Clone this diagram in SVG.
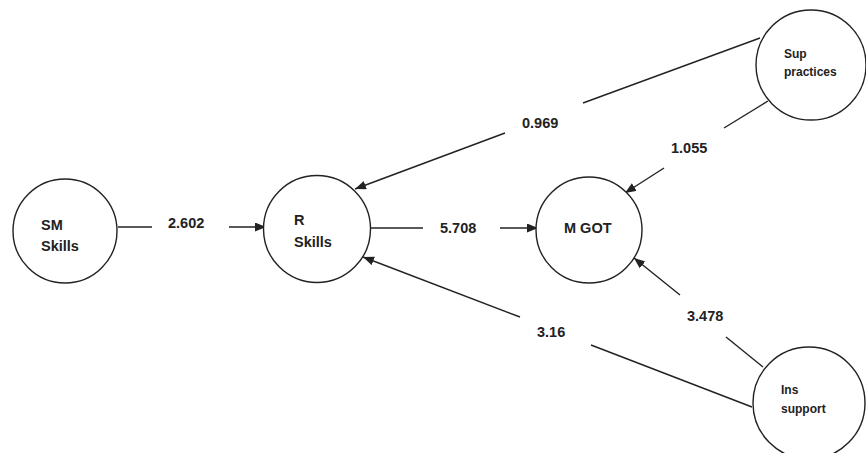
<svg xmlns="http://www.w3.org/2000/svg" width="866" height="453" viewBox="0 0 866 453">
<style>
.node circle{fill:#fff;stroke:#222;stroke-width:1.4}
.lbl{font-family:"Liberation Sans",Arial,sans-serif;font-weight:bold;font-size:14.5px;fill:#222}
.sm{font-size:12px}
.edge line{stroke:#222;stroke-width:1.4}
.w{font-family:"Liberation Sans",Arial,sans-serif;font-weight:bold;font-size:14.5px;fill:#222}
</style>
<defs>
<marker id="ah" markerUnits="userSpaceOnUse" markerWidth="12" markerHeight="10" refX="11" refY="4.5" orient="auto">
<path d="M0,0 L11,4.5 L0,9 z" fill="#222"/>
</marker>
</defs>
<rect width="866" height="453" fill="#fff"/>
<g id="connectors" class="edge">
<line x1="118" y1="227" x2="152" y2="227"/>
<line x1="229" y1="227" x2="266" y2="227" marker-end="url(#ah)"/>
<line x1="370" y1="228" x2="423" y2="228"/>
<line x1="500" y1="228" x2="538" y2="228" marker-end="url(#ah)"/>
<line x1="760" y1="38" x2="583" y2="103"/>
<line x1="505" y1="133" x2="355" y2="189" marker-end="url(#ah)"/>
<line x1="768" y1="101" x2="724" y2="128"/>
<line x1="664" y1="168" x2="625" y2="193" marker-end="url(#ah)"/>
<line x1="763" y1="367" x2="726" y2="337"/>
<line x1="680" y1="295" x2="634" y2="258" marker-end="url(#ah)"/>
<line x1="752" y1="407" x2="591" y2="345"/>
<line x1="520" y1="317" x2="363" y2="257" marker-end="url(#ah)"/>
<text class="w" x="168" y="228">2.602</text>
<text class="w" x="440" y="233">5.708</text>
<text class="w" x="522" y="128">0.969</text>
<text class="w" x="671" y="153">1.055</text>
<text class="w" x="687" y="321">3.478</text>
<text class="w" x="537" y="337">3.16</text>
</g>
<g id="sm-skills" class="node">
<circle cx="65" cy="231" r="52"/>
<text class="lbl" x="41" y="230">SM</text>
<text class="lbl" x="41" y="251">Skills</text>
</g>
<g id="r-skills" class="node">
<circle cx="317" cy="229" r="53.5"/>
<text class="lbl" x="294" y="225">R</text>
<text class="lbl" x="294" y="247">Skills</text>
</g>
<g id="m-got" class="node">
<circle cx="589" cy="230" r="53"/>
<text class="lbl" x="564" y="233">M GOT</text>
</g>
<g id="sup-practices" class="node">
<circle cx="811" cy="65" r="55"/>
<text class="lbl sm" x="784" y="58">Sup</text>
<text class="lbl sm" x="784" y="76">practices</text>
</g>
<g id="ins-support" class="node">
<circle cx="809" cy="403" r="56"/>
<text class="lbl sm" x="781" y="394">Ins</text>
<text class="lbl sm" x="781" y="413">support</text>
</g>
</svg>
